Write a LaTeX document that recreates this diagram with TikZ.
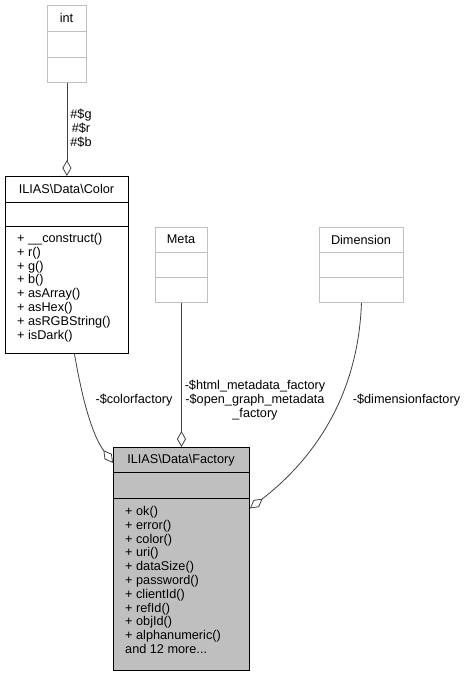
\documentclass[tikz,border=0pt]{standalone}
\usepackage{fontspec}
\setmainfont{Liberation Sans}
\usetikzlibrary{arrows.meta,calc}
\definecolor{boxgray}{HTML}{BFBFBF}
\definecolor{linegray}{HTML}{404040}
\begin{document}
\begin{tikzpicture}[x=1pt,y=-1pt,
  every node/.style={font=\fontsize{12.7}{13.8}\selectfont, inner sep=0pt},
  classbox/.style={draw=black, line width=0.9pt, anchor=north west, minimum width=#1},
  ghostbox/.style={draw=boxgray, line width=0.9pt, anchor=north west, minimum width=#1},
  divider/.style={line width=0.9pt},
  ghostdiv/.style={draw=boxgray, line width=0.9pt},
  method/.style={anchor=base west},
  lbl/.style={align=center, text=black},
  assoc/.style={draw=linegray, line width=0.8pt, -{Diamond[open, length=16pt, width=9pt, line width=0.8pt]}}
]
\useasboundingbox (0,0) rectangle (468,676);

% int
\node[ghostbox=39pt, minimum height=77pt] (int) at (47,5) {};
\draw[ghostdiv] (47,31) -- (86,31);
\draw[ghostdiv] (47,57) -- (86,57);
\node (intt) at (66.5,18) {int};

% Meta
\node[ghostbox=52pt, minimum height=75pt] (meta) at (155,227) {};
\draw[ghostdiv] (155,252) -- (207,252);
\draw[ghostdiv] (155,277) -- (207,277);
\node (metat) at (181,239.5) {Meta};

% Dimension
\node[ghostbox=84pt, minimum height=75pt] (dim) at (319,227) {};
\draw[ghostdiv] (319,252) -- (403,252);
\draw[ghostdiv] (319,277) -- (403,277);
\node (dimt) at (361,239.5) {Dimension};

% Color
\node[classbox=123pt, minimum height=177pt, fill=white] (color) at (5,176) {};
\draw[divider] (5,202) -- (128,202);
\draw[divider] (5,226) -- (128,226);
\node (colort) at (66.5,189) {ILIAS\textbackslash Data\textbackslash Color};
\foreach \t [count=\i from 0] in {{+ \_\_construct()}, {+ r()}, {+ g()}, {+ b()}, {+ asArray()}, {+ asHex()}, {+ asRGBString()}, {+ isDark()}}
  \node[method] (cm\i) at (17,{242.5+13.8*\i}) {\t};

% Factory
\node[classbox=136pt, minimum height=223pt, fill=boxgray] (factory) at (113,447) {};
\draw[divider] (113,472) -- (249,472);
\draw[divider] (113,498) -- (249,498);
\node (factoryt) at (181,460) {ILIAS\textbackslash Data\textbackslash Factory};
\foreach \t [count=\i from 0] in {{+ ok()}, {+ error()}, {+ color()}, {+ uri()}, {+ dataSize()}, {+ password()}, {+ clientId()}, {+ refId()}, {+ objId()}, {+ alphanumeric()}, {and 12 more.{}.{}.}}
  \node[method] (fm\i) at (125,{515.5+13.8*\i}) {\t};

% connectors
\draw[assoc] (int.south) -- (color.north);
\node[lbl] (lint) at (81,128) {\#\$g\\\#\$r\\\#\$b};

\draw[assoc] (meta.south) -- (meta.south |- factory.north);
\node[lbl] (lmeta) at (255,400) {-\$html\_metadata\_factory\\-\$open\_graph\_metadata\\\_factory};

\draw[assoc] ([xshift=7.5pt]color.south) .. controls (82,398) and (92,435) .. ([yshift=96pt]factory.west);
\node[lbl] (lcolor) at (134,400) {-\$colorfactory};

\draw[assoc] (dim.south) .. controls (358,400) and (310,462) .. ([yshift=50.5pt]factory.east);
\node[lbl] (ldim) at (406.5,400) {-\$dimensionfactory};
\end{tikzpicture}
\end{document}
